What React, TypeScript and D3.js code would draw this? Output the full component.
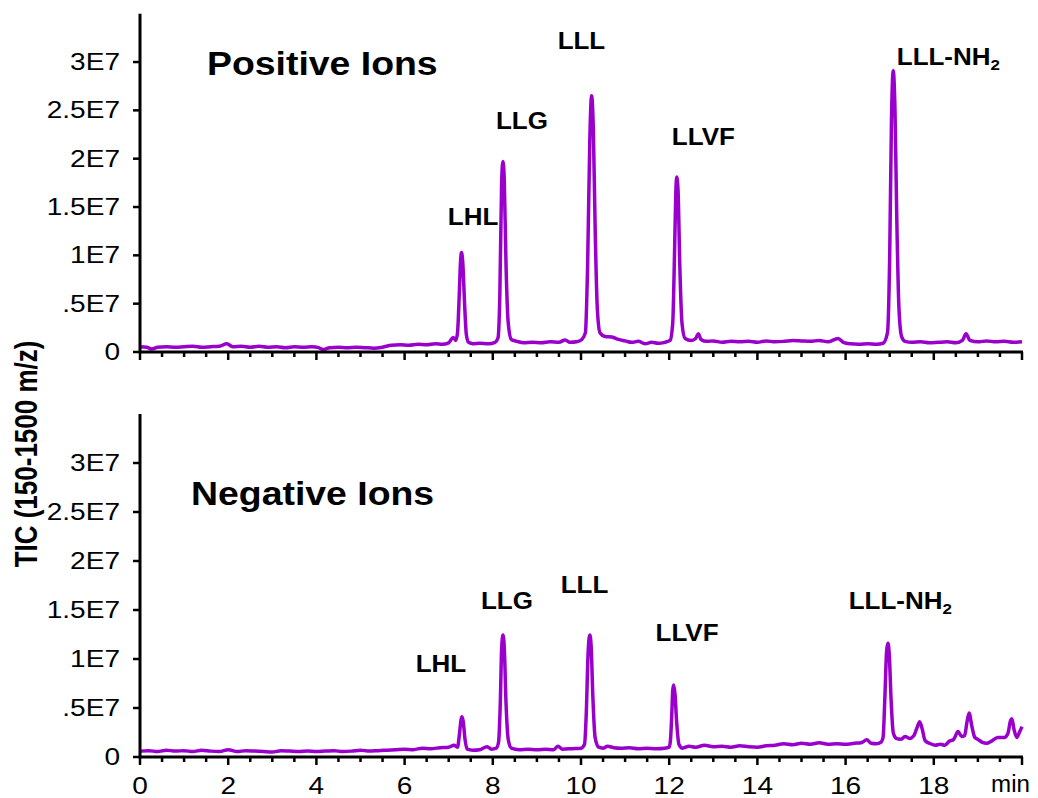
import React from 'react';
import * as d3 from 'd3';

// values in units of 1E6 counts
const yTickValues = [0, 5, 10, 15, 20, 25, 30];
const yTickLabels = ['0', '.5E7', '1E7', '1.5E7', '2E7', '2.5E7', '3E7'];
const xMajorTicks = [0, 2, 4, 6, 8, 10, 12, 14, 16, 18];
const xTickLabels = ['0', '2', '4', '6', '8', '10', '12', '14', '16', '18'];
const xUnitLabel = 'min';

const positiveIons: [number, number][] = [
  [0.0, 0.55], [0.15, 0.5], [0.27, 0.3], [0.4, 0.5], [0.6, 0.55], [0.8, 0.5], [1.0, 0.55], [1.2, 0.6], [1.4, 0.5], [1.6, 0.55], [1.8, 0.6], [1.97, 0.85], [2.1, 0.55], [2.3, 0.6], [2.5, 0.5], [2.7, 0.6], [2.9, 0.5], [3.1, 0.55], [3.3, 0.45], [3.5, 0.55], [3.7, 0.5], [3.9, 0.55], [4.05, 0.45], [4.15, 0.25], [4.3, 0.45], [4.5, 0.5], [4.7, 0.45], [4.9, 0.5], [5.1, 0.45], [5.3, 0.4], [5.5, 0.5], [5.7, 0.7], [5.9, 0.75], [6.1, 0.7], [6.3, 0.8], [6.5, 0.75], [6.7, 0.85], [6.85, 0.8], [7.0, 0.95], [7.1, 1.5], [7.16, 1.2],
  [7.2, 2.0], [7.24, 6.0], [7.27, 9.5], [7.29, 10.3], [7.32, 9.2], [7.36, 5.0], [7.4, 1.8], [7.45, 1.0], [7.55, 0.85], [7.7, 0.9], [7.9, 0.85], [8.05, 1.0],
  [8.12, 1.5], [8.16, 6], [8.2, 17.5], [8.23, 19.7], [8.26, 17.8], [8.3, 9], [8.35, 3.0], [8.42, 1.3], [8.55, 1.1], [8.7, 0.95], [8.9, 1.0], [9.1, 0.95], [9.3, 1.05], [9.5, 1.0], [9.64, 1.25], [9.75, 1.0], [9.9, 1.05], [10.02, 1.3],
  [10.1, 2.0], [10.15, 9], [10.2, 22], [10.24, 26.5], [10.28, 23], [10.32, 13], [10.37, 4.5], [10.43, 2.0], [10.55, 1.6], [10.7, 1.55], [10.85, 1.3], [11.0, 1.15], [11.15, 1.0], [11.3, 1.1], [11.45, 0.85], [11.6, 1.0], [11.75, 0.9], [11.9, 1.0], [12.02, 1.2],
  [12.08, 3], [12.12, 10], [12.15, 16.5], [12.17, 18.1], [12.2, 16.8], [12.24, 9], [12.29, 3], [12.36, 1.4], [12.5, 1.2], [12.6, 1.4], [12.66, 1.9], [12.72, 1.3], [12.85, 1.1], [13.0, 1.15], [13.2, 1.0], [13.4, 1.1], [13.6, 1.05], [13.8, 1.1], [14.0, 1.0], [14.2, 1.15], [14.4, 1.05], [14.6, 1.1], [14.8, 1.2], [15.0, 1.15], [15.2, 1.1], [15.4, 1.2], [15.6, 1.05], [15.83, 1.4], [15.95, 1.0], [16.1, 0.85], [16.3, 0.8], [16.5, 0.85], [16.7, 0.8], [16.85, 0.9],
  [16.95, 2.0], [17.0, 10], [17.04, 24], [17.08, 29.1], [17.12, 25], [17.16, 14], [17.21, 4.5], [17.27, 1.6], [17.35, 1.1], [17.5, 1.0], [17.7, 1.05], [17.9, 0.95], [18.1, 1.0], [18.3, 1.05], [18.5, 0.95], [18.65, 1.2], [18.73, 1.9], [18.82, 1.2], [19.0, 1.05], [19.2, 1.15], [19.4, 1.05], [19.6, 1.1], [19.8, 1.0], [20.0, 1.05],
];

const negativeIons: [number, number][] = [
  [0, 0.6], [0.2, 0.65], [0.4, 0.55], [0.6, 0.7], [0.8, 0.6], [1.0, 0.65], [1.2, 0.55], [1.4, 0.7], [1.6, 0.6], [1.8, 0.55], [2.0, 0.75], [2.2, 0.55], [2.4, 0.65], [2.6, 0.6], [2.8, 0.55], [3.0, 0.5], [3.2, 0.65], [3.4, 0.6], [3.6, 0.55], [3.8, 0.6], [4.0, 0.55], [4.2, 0.6], [4.4, 0.65], [4.6, 0.55], [4.8, 0.6], [5.0, 0.7], [5.2, 0.6], [5.4, 0.65], [5.6, 0.7], [5.8, 0.75], [6.0, 0.8], [6.2, 0.75], [6.4, 0.9], [6.6, 0.85], [6.8, 0.95], [7.0, 1.0], [7.12, 1.2],
  [7.2, 1.0], [7.24, 2.2], [7.28, 3.8], [7.3, 4.1], [7.33, 3.6], [7.37, 1.8], [7.42, 0.8], [7.55, 0.7], [7.7, 0.75], [7.87, 1.05], [7.97, 0.8], [8.08, 0.9],
  [8.13, 1.5], [8.17, 5.5], [8.2, 11], [8.23, 12.45], [8.26, 11.2], [8.3, 5.5], [8.35, 1.8], [8.42, 0.9], [8.6, 0.75], [8.8, 0.8], [9.0, 0.75], [9.2, 0.8], [9.38, 0.75], [9.48, 1.1], [9.58, 0.8], [9.8, 0.85], [10.0, 0.9],
  [10.08, 1.3], [10.12, 4.5], [10.16, 10.5], [10.2, 12.45], [10.23, 11.3], [10.27, 6], [10.32, 2], [10.4, 1.0], [10.5, 0.9], [10.6, 1.1], [10.75, 0.95], [10.9, 0.9], [11.1, 0.95], [11.3, 0.85], [11.5, 0.9], [11.7, 0.85], [11.9, 0.9], [12.0, 1.0],
  [12.03, 1.8], [12.06, 4.5], [12.08, 6.8], [12.1, 7.35], [12.13, 6.5], [12.17, 3.5], [12.22, 1.3], [12.3, 0.9], [12.45, 1.1], [12.6, 1.0], [12.8, 1.2], [13.0, 1.05], [13.2, 1.1], [13.4, 1.0], [13.6, 1.15], [13.8, 1.05], [14.0, 1.0], [14.2, 1.15], [14.4, 1.2], [14.6, 1.35], [14.8, 1.25], [15.0, 1.4], [15.2, 1.3], [15.4, 1.45], [15.6, 1.3], [15.8, 1.35], [16.0, 1.3], [16.2, 1.4], [16.35, 1.45], [16.48, 1.75], [16.58, 1.4], [16.7, 1.35], [16.8, 1.5],
  [16.85, 2.0], [16.89, 6], [16.93, 10.8], [16.96, 11.6], [16.99, 10.5], [17.03, 6], [17.08, 2.5], [17.15, 1.9], [17.25, 1.8], [17.35, 2.1], [17.45, 1.9], [17.55, 2.2], [17.62, 3.0], [17.68, 3.6], [17.74, 2.8], [17.8, 1.7], [17.9, 1.4], [18.03, 1.2], [18.15, 1.3], [18.25, 1.2], [18.35, 1.6], [18.45, 1.8], [18.55, 2.6], [18.63, 2.1], [18.7, 2.2], [18.75, 3.5], [18.8, 4.5], [18.86, 3.2], [18.93, 2.0], [19.0, 1.8], [19.1, 1.5], [19.2, 1.4], [19.3, 1.6], [19.45, 2.0], [19.6, 2.0], [19.68, 2.4], [19.74, 3.7], [19.77, 3.9], [19.82, 2.8], [19.88, 2.0], [19.94, 2.5], [20.0, 3.1],
];

// peak annotations: text, subscript, anchor in data coordinates (min, 1E6)
const positiveLabels = [
  { text: 'LHL', sub: '', t: 6.98, v: 13.1 },
  { text: 'LLG', sub: '', t: 8.07, v: 23.1 },
  { text: 'LLL', sub: '', t: 9.47, v: 31.3 },
  { text: 'LLVF', sub: '', t: 12.06, v: 21.4 },
  { text: 'LLL-NH', sub: '2', t: 17.16, v: 29.7 },
];
const negativeLabels = [
  { text: 'LHL', sub: '', t: 6.25, v: 8.67 },
  { text: 'LLG', sub: '', t: 7.73, v: 15.1 },
  { text: 'LLL', sub: '', t: 9.54, v: 16.7 },
  { text: 'LLVF', sub: '', t: 11.69, v: 11.8 },
  { text: 'LLL-NH', sub: '2', t: 16.07, v: 15.1 },
];

const FONT = 'Liberation Sans, Arial, Helvetica, sans-serif';
const PURPLE = '#9900cc';

const x = d3.scaleLinear().domain([0, 20]).range([140, 1022]);
const minorTicks = d3.range(0, 20.001, 0.5);

type PanelProps = {
  data: [number, number][];
  labels: { text: string; sub: string; t: number; v: number }[];
  yBottom: number;
  yTop: number;
  title: string;
  titleX: number;
  titleY: number;
  showXLabels: boolean;
};

function Panel({ data, labels, yBottom, yTop, title, titleX, titleY, showXLabels }: PanelProps) {
  const y = d3.scaleLinear().domain([0, 35]).range([yBottom, yTop]);
  const line = d3
    .line<[number, number]>()
    .x((d) => x(d[0]))
    .y((d) => y(d[1]))
    .curve(d3.curveMonotoneX);
  const x0 = x(0);
  return (
    <g>
      <path d={line(data) || ''} fill="none" stroke={PURPLE} strokeWidth={3.5} strokeLinejoin="round" />
      <line x1={x0} x2={x0} y1={y(35)} y2={y(0) + 1.5} stroke="#000" strokeWidth={3} />
      {yTickValues.map((v, i) => (
        <g key={'yt' + i}>
          <line x1={x0 - 7} x2={x0} y1={y(v)} y2={y(v)} stroke="#000" strokeWidth={2.5} />
          <text
            transform={`translate(120,${y(v) + 8}) scale(1.22,1)`}
            textAnchor="end"
            fontFamily={FONT}
            fontSize={23}
            fill="#000"
          >
            {yTickLabels[i]}
          </text>
        </g>
      ))}
      <line x1={x0} x2={x(20) + 1} y1={y(0)} y2={y(0)} stroke="#000" strokeWidth={3} />
      {minorTicks.map((t) => {
        const major = Math.abs(t / 2 - Math.round(t / 2)) < 1e-6;
        return (
          <line
            key={'xt' + t}
            x1={x(t)}
            x2={x(t)}
            y1={y(0)}
            y2={y(0) + (major ? 8 : 5)}
            stroke="#000"
            strokeWidth={2.5}
          />
        );
      })}
      {showXLabels &&
        xMajorTicks.map((t, i) => (
          <text
            key={'xl' + t}
            transform={`translate(${x(t)},794) scale(1.22,1)`}
            textAnchor="middle"
            fontFamily={FONT}
            fontSize={23}
            fill="#000"
          >
            {xTickLabels[i]}
          </text>
        ))}
      {showXLabels && (
        <text
          transform={`translate(1030,792) scale(1.05,1)`}
          textAnchor="end"
          fontFamily={FONT}
          fontSize={23}
          fill="#000"
        >
          {xUnitLabel}
        </text>
      )}
      {labels.map((l, i) => (
        <text
          key={'pl' + i}
          transform={`translate(${x(l.t)},${y(l.v)}) scale(1.13,1)`}
          fontFamily={FONT}
          fontSize={23}
          fontWeight="bold"
          fill="#000"
        >
          {l.text}
          {l.sub && (
            <tspan fontSize={15} dy={5}>
              {l.sub}
            </tspan>
          )}
        </text>
      ))}
      <text
        transform={`translate(${titleX},${titleY}) scale(1.1,1)`}
        fontFamily={FONT}
        fontSize={34}
        fontWeight="bold"
        fill="#000"
      >
        {title}
      </text>
    </g>
  );
}

export default function App() {
  return (
    <svg
      width={1038}
      height={798}
      viewBox="0 0 1038 798"
      style={{ position: 'absolute', left: 0, top: 0, background: '#fff' }}
    >
      <rect x={0} y={0} width={1038} height={798} fill="#fff" />
      <Panel
        data={positiveIons}
        labels={positiveLabels}
        yBottom={352}
        yTop={13.7}
        title="Positive Ions"
        titleX={207}
        titleY={75}
        showXLabels={false}
      />
      <Panel
        data={negativeIons}
        labels={negativeLabels}
        yBottom={757}
        yTop={414}
        title="Negative Ions"
        titleX={191}
        titleY={505}
        showXLabels={true}
      />
      <text
        transform="translate(37,454) scale(1.2,1) rotate(-90)"
        textAnchor="middle"
        fontFamily={FONT}
        fontSize={26}
        fontWeight="bold"
        fill="#000"
      >
        TIC (150-1500 m/z)
      </text>
    </svg>
  );
}
